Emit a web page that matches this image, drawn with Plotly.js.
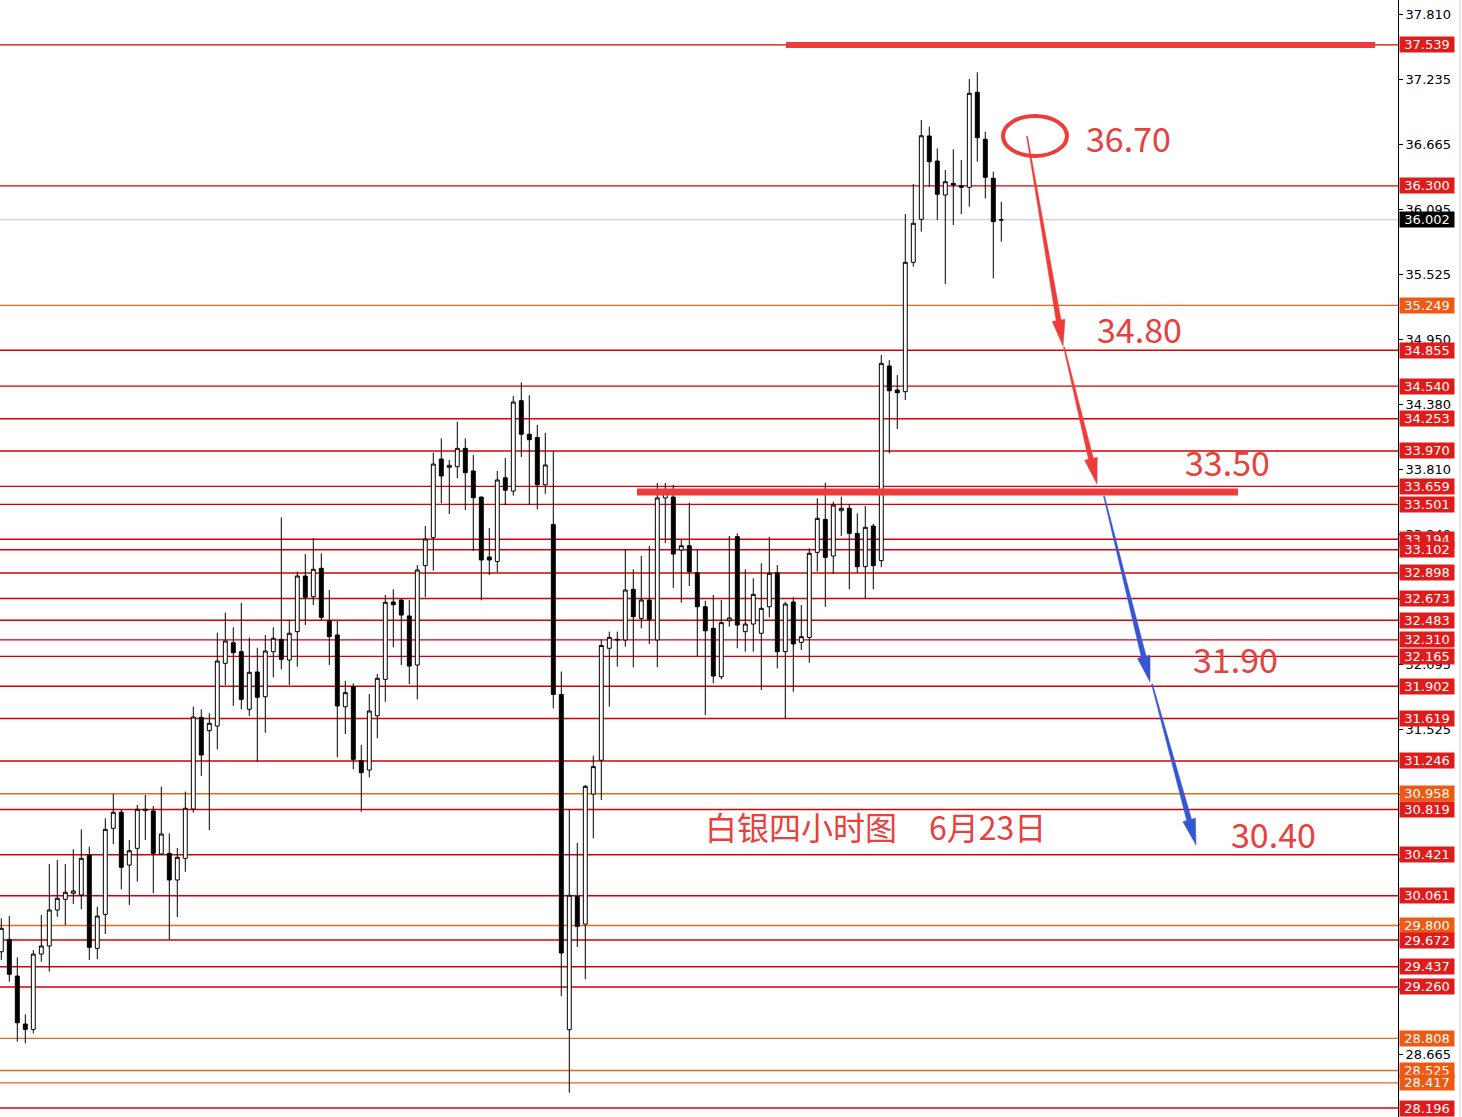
<!DOCTYPE html>
<html><head><meta charset="utf-8">
<script src="https://cdn.plot.ly/plotly-3.0.1.min.js"></script>
<style>html,body{margin:0;padding:0;background:#fff;overflow:hidden;} #chart{width:1462px;height:1117px;}</style>
</head><body><div id="chart"></div>
<script>
// ---- data (silver, 4-hour candles) ----
const openP = [29.569,29.678,29.356,28.934,28.887,29.549,29.620,29.936,30.030,30.083,
30.068,30.419,29.599,29.898,30.654,30.795,30.331,30.478,30.809,30.806,
30.428,30.434,30.200,30.390,30.824,31.629,31.512,31.553,32.104,32.285,
32.206,31.700,32.028,31.810,32.206,32.315,32.133,32.382,32.871,32.689,
32.939,32.476,32.353,31.722,31.898,31.248,31.166,31.643,31.963,32.643,
32.660,32.520,32.089,32.962,33.208,33.899,33.826,33.832,33.993,33.794,
33.565,33.038,32.999,33.734,33.618,34.412,34.117,34.089,33.673,33.323,
31.830,28.884,30.055,29.812,30.954,31.252,32.236,32.315,32.309,32.754,
32.499,32.660,32.309,33.557,33.565,33.100,33.137,32.900,32.601,32.412,
31.986,32.478,33.217,32.382,32.449,32.368,32.601,32.900,32.206,32.643,
32.288,32.332,33.079,33.369,33.047,33.445,33.466,33.246,32.953,33.310,
33.006,34.717,34.506,34.491,35.628,36.006,36.738,36.518,36.219,36.322,
36.301,36.287,37.122,36.709,36.366,36.000];
const highP = [29.863,29.883,29.520,29.019,29.584,29.892,30.340,30.375,30.340,30.469,
30.645,30.492,29.965,30.742,30.955,30.815,30.551,30.859,30.947,30.850,
31.020,30.610,30.481,30.976,31.723,31.700,31.665,32.373,32.549,32.420,
32.636,32.329,32.241,32.353,32.420,33.387,32.484,32.909,33.064,33.202,
33.071,32.748,32.476,31.951,31.928,31.386,31.834,32.010,32.704,32.754,
32.666,32.660,32.968,33.310,33.955,34.081,33.891,34.227,34.081,33.934,
33.568,33.293,33.794,33.908,34.453,34.573,34.460,34.198,34.130,33.968,
32.032,30.821,30.526,31.034,31.293,32.314,32.382,32.382,33.106,32.930,
33.047,33.135,33.688,33.688,33.671,33.187,33.515,33.100,32.654,32.704,
32.660,33.223,33.246,32.930,32.851,32.983,33.217,32.968,32.645,32.684,
32.616,33.115,33.554,33.691,33.524,33.568,33.504,33.422,33.486,33.328,
34.813,34.769,34.637,36.052,36.316,36.878,36.820,36.630,36.439,36.621,
36.527,37.239,37.298,36.776,36.424,36.160];
const lowP = [29.497,29.306,28.779,28.764,28.852,29.482,29.394,29.877,29.804,29.989,
29.942,29.497,29.503,29.725,30.516,30.118,29.980,30.185,30.551,30.083,
30.419,29.678,29.874,30.272,30.791,31.114,30.639,31.348,31.913,31.729,
31.700,31.641,31.239,31.494,31.981,32.051,31.913,32.074,32.440,32.616,
32.484,32.089,31.278,31.483,31.172,30.800,31.102,31.445,31.766,32.245,
32.089,31.922,31.787,32.684,32.918,33.510,33.416,33.730,33.451,33.093,
32.657,32.880,32.906,33.495,33.577,33.916,33.496,33.456,33.593,31.708,
29.178,28.331,29.611,29.328,30.567,30.902,31.723,32.074,32.250,32.069,
32.412,32.274,32.071,33.161,32.766,32.636,32.783,32.168,31.650,31.928,
31.963,32.426,32.236,32.206,32.206,31.869,32.508,32.060,31.621,31.854,
32.221,32.109,32.909,32.601,32.889,33.223,32.754,32.900,32.675,32.754,
32.948,33.949,34.163,34.418,35.589,35.897,36.292,36.000,35.437,35.956,
36.052,36.117,36.512,36.190,35.487,35.809];
const closeP = [29.775,29.371,28.945,28.887,29.549,29.620,29.936,30.039,30.092,30.103,
30.390,29.608,29.883,30.645,30.795,30.311,30.457,30.821,30.821,30.434,
30.604,30.200,30.399,30.830,31.632,31.298,31.577,32.124,32.300,32.197,
31.787,32.025,31.805,32.212,32.324,32.139,32.368,32.871,32.684,32.930,
32.508,32.338,31.729,31.846,31.260,31.143,31.685,31.972,32.640,32.619,
32.528,32.080,32.924,33.196,33.855,33.750,33.844,33.993,33.779,33.559,
33.012,33.012,33.715,33.625,34.400,34.117,34.069,33.673,33.847,31.830,
29.558,30.066,29.792,31.023,31.196,32.261,32.332,32.310,32.748,32.513,
32.660,32.491,33.557,33.601,33.064,33.137,32.909,32.601,32.390,31.992,
32.461,32.502,32.440,32.449,32.710,32.587,32.895,32.206,32.625,32.274,
32.338,33.071,33.378,33.035,33.495,33.466,33.246,32.953,33.299,32.962,
34.740,34.499,34.482,35.628,35.971,36.740,36.512,36.226,36.336,36.307,
36.287,37.113,36.723,36.375,35.985,36.002];

const levelValues = [37.539,36.300,35.249,34.855,34.540,34.253,33.970,33.659,33.501,33.194,
33.102,32.898,32.673,32.483,32.310,32.165,31.902,31.619,31.246,30.958,
30.819,30.421,30.061,29.800,29.672,29.437,29.260,28.808,28.525,28.417,28.196];
const levelKinds = ['r','r','o','r','r','r','r','r','r','r',
'r','r','r','r','r','r','r','r','r','o',
'r','r','r','o','r','r','r','o','o','o','r'];
const currentPrice = 36.002;
const tickValues = [37.810,37.235,36.665,36.095,35.525,34.950,34.380,33.810,33.240,32.665,
32.095,31.525,30.955,30.380,29.810,29.240,28.665];
// tick labels that are fully covered by price boxes in the original are left blank
const tickLabels = ['37.810','37.235','36.665','36.095','35.525','34.950','34.380','33.810','33.240','',
'32.095','31.525','','','','','28.665'];
const targetLabels = ['36.70','34.80','33.50','31.90','30.40'];
const noteText = '白银四小时图\u30006月23日';

// ---- layout geometry (pixels) ----
const W = 1462, H = 1117, PW = 1398;
const fx = x => x / PW;
const fy = y => 1 - y / H;

const idx = openP.map((_, i) => i);

const RED_LINE = '#d80000', ORANGE_LINE = '#e06a1e';
const RED_BOX = '#e01b1b', ORANGE_BOX = '#ec5a14';
const MARK_RED = '#ee3b3b', MARK_BLUE = '#3556d0', TEXT_RED = '#e8413d';

const shapes = [];
const annotations = [];

levelValues.forEach((v, i) => {
  shapes.push({type:'line', xref:'paper', x0:0, x1:1, yref:'y', y0:v, y1:v,
    line:{color: levelKinds[i]==='o' ? ORANGE_LINE : RED_LINE, width:1.4}, layer:'below'});
  annotations.push({xref:'paper', x:1, xanchor:'left', xshift:1, yref:'y', y:v, yanchor:'middle',
    text: v.toFixed(3), showarrow:false, bgcolor: levelKinds[i]==='o' ? ORANGE_BOX : RED_BOX,
    font:{family:'DejaVu Sans', size:13, color:'#ffffff'}, width:52, height:13, borderpad:1, align:'center'});
});
shapes.push({type:'line', xref:'paper', x0:0, x1:1, yref:'y', y0:currentPrice, y1:currentPrice,
  line:{color:'#c4c4c4', width:1.2}, layer:'below'});
annotations.push({xref:'paper', x:1, xanchor:'left', xshift:1, yref:'y', y:currentPrice, yanchor:'middle',
  text: currentPrice.toFixed(3), showarrow:false, bgcolor:'#000000',
  font:{family:'DejaVu Sans', size:13, color:'#ffffff'}, width:52, height:13, borderpad:1, align:'center'});

// right border
shapes.push({type:'line', xref:'paper', yref:'paper', x0:fx(1460), x1:fx(1460), y0:0, y1:1, line:{color:'#cfcfcf', width:1}});

// hand-drawn marks
shapes.push({type:'line', xref:'paper', yref:'paper', x0:fx(786), x1:fx(1375), y0:fy(45), y1:fy(45), line:{color:MARK_RED, width:6}});
shapes.push({type:'line', xref:'paper', yref:'paper', x0:fx(637), x1:fx(1238), y0:fy(492), y1:fy(492), line:{color:MARK_RED, width:7}});
shapes.push({type:'circle', xref:'paper', yref:'paper', x0:fx(1003), x1:fx(1067), y0:fy(156), y1:fy(116), line:{color:MARK_RED, width:4}});

function arrowPath(x0,y0,x1,y1,w0,w1,hl,hw){
  const dx=x1-x0, dy=y1-y0, L=Math.hypot(dx,dy), ux=dx/L, uy=dy/L, nx=-uy, ny=ux;
  const bx=x1-ux*hl, by=y1-uy*hl;
  const pts=[[x0+nx*w0/2,y0+ny*w0/2],[bx+nx*w1/2,by+ny*w1/2],[bx+nx*hw/2,by+ny*hw/2],[x1,y1],
    [bx-nx*hw/2,by-ny*hw/2],[bx-nx*w1/2,by-ny*w1/2],[x0-nx*w0/2,y0-ny*w0/2]];
  return 'M ' + pts.map(p => fx(p[0]).toFixed(5)+','+fy(p[1]).toFixed(5)).join(' L ') + ' Z';
}
[[1027,136,1063,346,MARK_RED],[1064,347,1097,484,MARK_RED],[1104,496,1150,682,MARK_BLUE],[1152,684,1196,845,MARK_BLUE]]
 .forEach(a => shapes.push({type:'path', xref:'paper', yref:'paper', path: arrowPath(a[0],a[1],a[2],a[3],1,5,26,13),
   fillcolor:a[4], line:{color:a[4], width:0.5}}));

const targetPos = [[1128,137],[1139,329],[1227,461],[1235,658],[1273,833]];
targetLabels.forEach((t,i) => annotations.push({xref:'paper', yref:'paper', x:fx(targetPos[i][0]), y:fy(targetPos[i][1]),
  xanchor:'center', yanchor:'middle', text:t, showarrow:false,
  font:{family:'Noto Sans CJK SC', size:34, color:TEXT_RED}}));
annotations.push({xref:'paper', yref:'paper', x:fx(875), y:fy(826), xanchor:'center', yanchor:'middle',
  text:noteText, showarrow:false, font:{family:'Noto Sans CJK SC', size:32, color:TEXT_RED}});

const trace = {type:'candlestick', x: idx, open: openP, high: highP, low: lowP, close: closeP,
  increasing:{line:{color:'#000000', width:1}, fillcolor:'#ffffff'},
  decreasing:{line:{color:'#000000', width:1}, fillcolor:'#000000'},
  whiskerwidth:0, hoverinfo:'skip', showlegend:false};

const layout = {
  width:W, height:H, margin:{l:0, r:W-PW, t:0, b:0}, paper_bgcolor:'#ffffff', plot_bgcolor:'#ffffff',
  showlegend:false,
  xaxis:{range:[-0.1625,174.59], visible:false, rangeslider:{visible:false}, showgrid:false, zeroline:false},
  yaxis:{side:'right', range:[28.117,37.933], tickvals:tickValues, ticktext:tickLabels,
    ticks:'outside', ticklen:4, tickcolor:'#000000', showline:true, linecolor:'#000000', linewidth:1,
    showgrid:false, zeroline:false, tickfont:{family:'DejaVu Sans', size:13, color:'#000000'}},
  shapes: shapes, annotations: annotations
};
Plotly.newPlot('chart', [trace], layout, {displayModeBar:false, staticPlot:true});
</script></body></html>
